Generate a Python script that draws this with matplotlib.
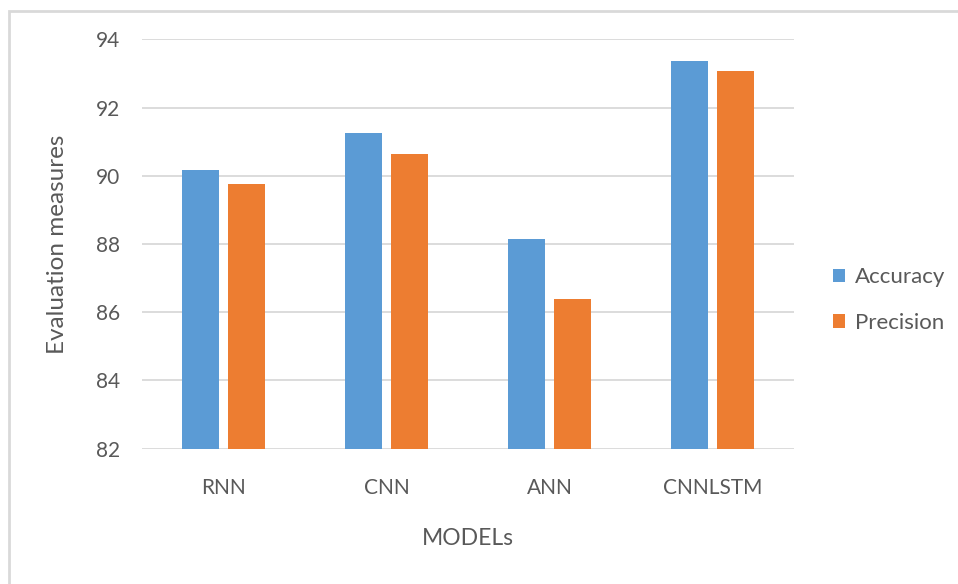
import matplotlib.pyplot as plt
from matplotlib.patches import Rectangle
import numpy as np

plt.rcParams['font.family'] = ['Lato', 'DejaVu Sans']

models = ['RNN', 'CNN', 'ANN', 'CNNLSTM']
accuracy = [90.17, 91.25, 88.16, 93.38]
precision = [89.75, 90.65, 86.39, 93.08]
yticks = [82, 84, 86, 88, 90, 92, 94]

blue = '#5B9BD5'
orange = '#ED7D31'
txt = '#595959'
grid = '#D9D9D9'

fig = plt.figure(figsize=(9.58, 5.84), dpi=100)
ax = fig.add_axes([0.1482, 0.2317, 0.6806, 0.7007])

x = np.arange(len(models))
w = 0.227
ax.bar(x - 0.141, accuracy, w, color=blue, label='Accuracy', zorder=3)
ax.bar(x + 0.141, precision, w, color=orange, label='Precision', zorder=3)

ax.set_xlim(-0.5, 3.5)
ax.set_ylim(82, 94)
ax.set_yticks(yticks)
ax.set_xticks(x)
ax.set_xticklabels(models)
ax.yaxis.grid(True, color=grid, linewidth=1.3, zorder=0)
ax.tick_params(length=0, labelsize=15, colors=txt)
ax.tick_params(axis='x', pad=21)
ax.tick_params(axis='y', pad=16)
for s in ax.spines.values():
    s.set_visible(False)

ax.set_ylabel('Evaluation measures', fontsize=17.5, color=txt)
ax.yaxis.set_label_coords(-0.113, 0.5)
ax.set_xlabel('MODELs', fontsize=16.5, color=txt, labelpad=22)

leg = fig.legend(loc='center left', bbox_to_anchor=(0.869, 0.486), frameon=False,
                 fontsize=16, handlelength=0.55, handleheight=0.55,
                 handletextpad=0.45, labelspacing=1.15, labelcolor=txt,
                 borderaxespad=0, borderpad=0)

# outer chart frame, cut off on the right and bottom
fig.patches.append(Rectangle((8.5 / 958, -0.05), 1.2, 1 - 11 / 584 + 0.05,
                             transform=fig.transFigure, fill=False,
                             edgecolor=grid, linewidth=2))

fig.savefig('out.png', dpi=100)
